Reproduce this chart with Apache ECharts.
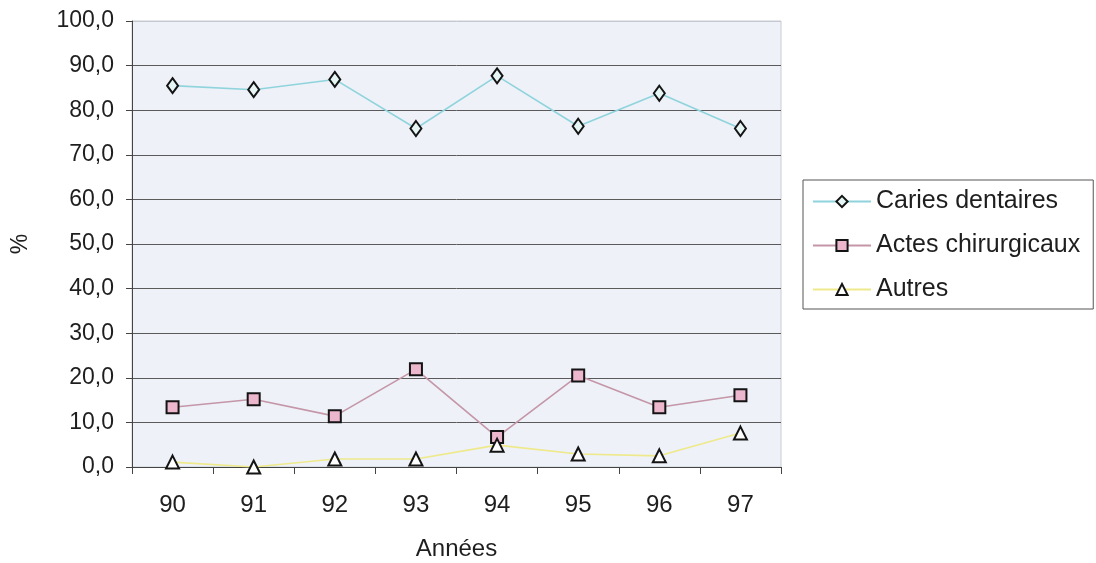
<!DOCTYPE html>
<html><head><meta charset="utf-8">
<script src="https://cdn.jsdelivr.net/npm/echarts@6/dist/echarts.min.js"></script>
<style>html,body{margin:0;padding:0;background:#fff}#c{width:1096px;height:563px}</style>
</head><body><div id="c"></div>
<script>
const categories = ['90','91','92','93','94','95','96','97'];
const caries = [85.5, 84.6, 86.9, 75.9, 87.7, 76.4, 83.8, 75.9];
const actes = [13.4, 15.2, 11.4, 21.9, 6.7, 20.5, 13.4, 16.1];
const autres = [1.1, 0.0, 1.8, 1.8, 4.9, 2.9, 2.5, 7.6];
const seriesNames = ['Caries dentaires', 'Actes chirurgicaux', 'Autres'];
const yTicks = {min: 0, max: 100, interval: 10};

const FONT = 'Liberation Sans, Arial, sans-serif';
const TXT = '#1e1e1e';
const chart = echarts.init(document.getElementById('c'));
function lineSeries(name, data, lineColor, symbol, size, fill) {
  return {
    name, type: 'line', data, symbol, symbolSize: size,
    lineStyle: {color: lineColor, width: 1.6},
    itemStyle: {color: fill, borderColor: '#141414', borderWidth: 2},
    emphasis: {disabled: true}, animation: false, z: 3
  };
}
const gridColors = [];
for (let i = 0; i < 10; i++) gridColors.push('#5a5a5a');
gridColors.push('#c4c8d0');
chart.setOption({
  animation: false,
  textStyle: {fontFamily: FONT},
  grid: {left: 132, right: 315, top: 21, bottom: 96, show: true, containLabel: false,
         outerBoundsMode: 'none',
         backgroundColor: '#eef1f8', borderColor: '#c8ccd4', borderWidth: 1},
  legend: {
    orient: 'vertical', left: 803, top: 180,
    padding: [9, 13, 7, 9], itemGap: 19, itemWidth: 58, itemHeight: 14,
    backgroundColor: '#fff', borderColor: '#555', borderWidth: 1,
    textStyle: {fontSize: 25, color: TXT, fontFamily: FONT, lineHeight: 24},
    data: seriesNames
  },
  xAxis: {
    type: 'category', data: categories, boundaryGap: true,
    name: 'Années', nameLocation: 'middle', nameGap: 70, nameMoveOverlap: false,
    nameTextStyle: {fontSize: 24, color: TXT, fontFamily: FONT},
    axisLine: {lineStyle: {color: '#444', width: 1}},
    axisTick: {show: true, inside: false, length: 7, alignWithLabel: false, lineStyle: {color: '#444'}},
    axisLabel: {fontSize: 24, color: TXT, margin: 26, fontFamily: FONT}
  },
  yAxis: {
    type: 'value', min: yTicks.min, max: yTicks.max, interval: yTicks.interval,
    name: '%', nameLocation: 'middle', nameGap: 100, nameRotate: 90, nameMoveOverlap: false,
    nameTextStyle: {fontSize: 23, color: TXT, fontFamily: FONT},
    axisLine: {show: true, lineStyle: {color: '#444', width: 1}},
    axisTick: {show: true, length: 6, lineStyle: {color: '#444'}},
    axisLabel: {fontSize: 23, color: TXT, margin: 18, fontFamily: FONT,
      formatter: v => v.toFixed(1).replace('.', ',')},
    splitLine: {show: true, lineStyle: {color: gridColors, width: 1}}
  },
  series: [
    lineSeries(seriesNames[0], caries, '#8fd4dc', 'diamond', [11, 15], '#e6f6f4'),
    lineSeries(seriesNames[1], actes, '#c496a8', 'rect', 12, '#ecb6cc'),
    lineSeries(seriesNames[2], autres, '#eee98a', 'triangle', 13, '#ffffff')
  ]
});
</script></body></html>
